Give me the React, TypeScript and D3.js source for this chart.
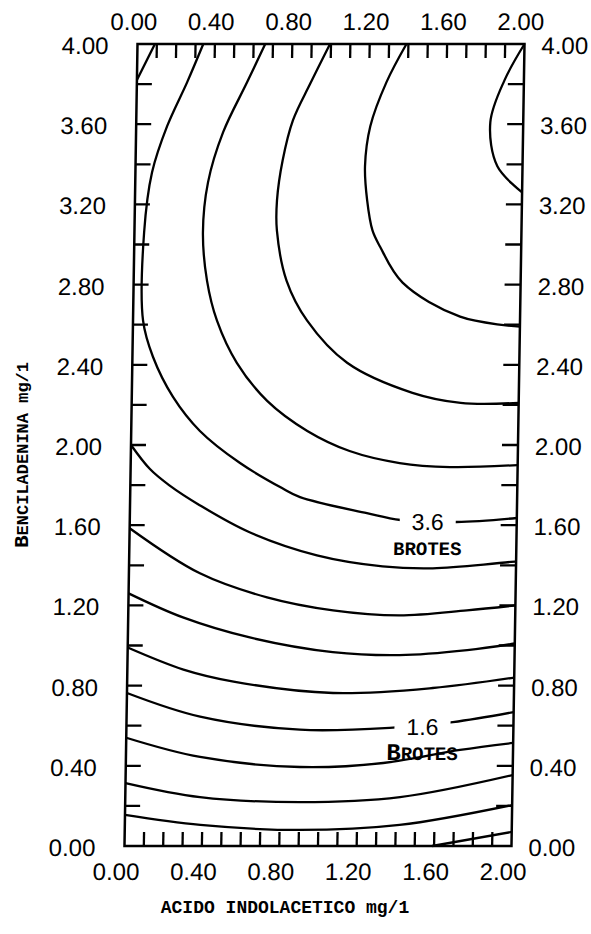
import React, { useEffect, useRef } from "react";
import * as d3 from "d3";

// Axis values
const xTickValues = [0, 0.4, 0.8, 1.2, 1.6, 2.0];
const yTickValues = [0, 0.4, 0.8, 1.2, 1.6, 2.0, 2.4, 2.8, 3.2, 3.6, 4.0];
const xMinorTicks = [0.1, 0.2, 0.3, 0.4, 0.5, 0.6, 0.7, 0.8, 0.9, 1.0, 1.1, 1.2, 1.3, 1.4, 1.5, 1.6, 1.7, 1.8, 1.9];
const yMinorTicks = [0.2, 0.4, 0.6, 0.8, 1.0, 1.2, 1.4, 1.6, 1.8, 2.0, 2.2, 2.4, 2.6, 2.8, 3.0, 3.2, 3.4, 3.6, 3.8];

// Contour lines, [acido indolacetico, bencilhadenina]
const cornerTopLeft: [number, number][] = [[0.09, 4.0], [0.0, 3.82]];
const contour36: [number, number][] = [
  [0.34, 4.0], [0.26, 3.81], [0.16, 3.59], [0.086, 3.36], [0.05, 3.06], [0.052, 2.62],
  [0.106, 2.44], [0.213, 2.24], [0.355, 2.07], [0.565, 1.91], [0.784, 1.785], [0.878, 1.74],
  [1.225, 1.66], [1.40, 1.626], [1.69, 1.616], [2.0, 1.636],
];
const contourB: [number, number][] = [
  [0.66, 4.0], [0.57, 3.81], [0.45, 3.56], [0.376, 3.31], [0.354, 3.06], [0.379, 2.82],
  [0.434, 2.62], [0.54, 2.41], [0.70, 2.22], [0.91, 2.07], [1.13, 1.97], [1.39, 1.91],
  [1.65, 1.89], [2.0, 1.90],
];
const contourC: [number, number][] = [
  [0.995, 4.0], [0.895, 3.80], [0.81, 3.62], [0.76, 3.42], [0.734, 3.22], [0.736, 3.07],
  [0.79, 2.82], [0.90, 2.62], [1.11, 2.41], [1.45, 2.26], [1.70, 2.21], [2.0, 2.21],
];
const contourD: [number, number][] = [
  [1.39, 4.0], [1.29, 3.81], [1.21, 3.59], [1.186, 3.39], [1.20, 3.22], [1.23, 3.07],
  [1.27, 2.99], [1.39, 2.81], [1.69, 2.64], [2.0, 2.59],
];
const cornerTopRight: [number, number][] = [[2.0, 4.0], [1.90, 3.82], [1.83, 3.61], [1.87, 3.39], [2.0, 3.26]];
const contourE: [number, number][] = [
  [0.0, 2.0], [0.10, 1.88], [0.20, 1.80], [0.36, 1.70], [0.62, 1.565], [0.97, 1.45],
  [1.31, 1.395], [1.57, 1.385], [2.0, 1.42],
];
const contourF: [number, number][] = [
  [0.0, 1.585], [0.367, 1.36], [0.716, 1.24], [1.058, 1.175], [1.40, 1.15], [1.75, 1.175], [2.0, 1.20],
];
const contourG: [number, number][] = [
  [0.0, 1.26], [0.283, 1.14], [0.63, 1.04], [1.06, 0.967], [1.406, 0.952], [1.755, 0.977], [2.0, 1.01],
];
const contourH: [number, number][] = [
  [0.0, 0.99], [0.29, 0.88], [0.55, 0.82], [1.065, 0.763], [1.58, 0.788], [2.0, 0.84],
];
const contour16: [number, number][] = [
  [0.0, 0.763], [0.38, 0.645], [0.897, 0.58], [1.378, 0.59], [1.687, 0.618], [2.0, 0.668],
];
const contourI: [number, number][] = [
  [0.0, 0.54], [0.383, 0.444], [0.90, 0.394], [1.33, 0.414], [1.726, 0.479], [2.0, 0.514],
];
const contourJ: [number, number][] = [
  [0.0, 0.314], [0.386, 0.244], [0.903, 0.219], [1.42, 0.244], [2.0, 0.354],
];
const contourK: [number, number][] = [
  [0.0, 0.155], [0.39, 0.105], [0.904, 0.08], [1.42, 0.105], [2.0, 0.204],
];
const cornerBottomRight: [number, number][] = [[1.59, 0.0], [2.0, 0.07]];

const contours = [
  cornerTopLeft, contour36, contourB, contourC, contourD, cornerTopRight, contourE,
  contourF, contourG, contourH, contour16, contourI, contourJ, contourK, cornerBottomRight,
];

// Contour labels
const labelValues = ["3.6", "1.6"];
const labelX = [1.54, 1.53];
const labelY = [1.62, 0.60];

export default function App() {
  const svgRef = useRef<SVGSVGElement>(null);

  const width = 591;
  const height = 934;
  const left = 137.5;
  const top = 44;
  const plotW = 387;
  const plotH = 802;
  const skew = -0.93; // the scan is slightly sheared

  useEffect(() => {
    const svg = d3.select(svgRef.current);
    svg.selectAll("*").remove();

    svg.append("rect").attr("width", width).attr("height", height).attr("fill", "white");

    const x = d3.scaleLinear().domain([0, 2]).range([0, plotW]);
    const y = d3.scaleLinear().domain([0, 4]).range([plotH, 0]);

    const g = svg.append("g")
      .attr("transform", "translate(" + left + "," + top + ") skewX(" + skew + ")");

    // CONTOURS
    const line = d3.line<[number, number]>()
      .x(d => x(d[0]))
      .y(d => y(d[1]))
      .curve(d3.curveCatmullRom.alpha(0.5));

    g.selectAll("path.contour")
      .data(contours)
      .enter()
      .append("path")
      .attr("class", "contour")
      .attr("d", d => line(d))
      .attr("fill", "none")
      .attr("stroke", "black")
      .attr("stroke-width", 2.3);

    // TICKS (inward)
    const tickLen = 14;
    g.selectAll("line.xt")
      .data(xMinorTicks)
      .enter()
      .append("line")
      .attr("x1", d => x(d)).attr("x2", d => x(d))
      .attr("y1", 0).attr("y2", tickLen)
      .attr("stroke", "black").attr("stroke-width", 2.3);
    g.selectAll("line.xb")
      .data(xMinorTicks)
      .enter()
      .append("line")
      .attr("x1", d => x(d)).attr("x2", d => x(d))
      .attr("y1", plotH).attr("y2", plotH - tickLen)
      .attr("stroke", "black").attr("stroke-width", 2.3);
    g.selectAll("line.yl")
      .data(yMinorTicks)
      .enter()
      .append("line")
      .attr("x1", 0).attr("x2", tickLen + 1)
      .attr("y1", d => y(d)).attr("y2", d => y(d))
      .attr("stroke", "black").attr("stroke-width", 2.3);
    g.selectAll("line.yr")
      .data(yMinorTicks)
      .enter()
      .append("line")
      .attr("x1", plotW).attr("x2", plotW - tickLen - 2)
      .attr("y1", d => y(d)).attr("y2", d => y(d))
      .attr("stroke", "black").attr("stroke-width", 2.3);

    // FRAME
    g.append("rect")
      .attr("width", plotW).attr("height", plotH)
      .attr("fill", "none").attr("stroke", "black").attr("stroke-width", 2.5);

    // TICK LABELS
    const fmt = d3.format(".2f");
    const sans = "'Liberation Sans', Arial, sans-serif";
    g.selectAll("text.top")
      .data(xTickValues)
      .enter()
      .append("text")
      .attr("x", d => x(d) - 4).attr("y", -14)
      .attr("text-anchor", "middle")
      .attr("font-family", sans).attr("font-size", 24)
      .text(d => fmt(d));
    g.selectAll("text.bottom")
      .data(xTickValues)
      .enter()
      .append("text")
      .attr("x", d => x(d) - 8).attr("y", plotH + 34)
      .attr("text-anchor", "middle")
      .attr("font-family", sans).attr("font-size", 24)
      .text(d => fmt(d));
    g.selectAll("text.left")
      .data(yTickValues)
      .enter()
      .append("text")
      .attr("x", -29).attr("y", d => y(d) + 10)
      .attr("text-anchor", "end")
      .attr("font-family", sans).attr("font-size", 24)
      .text(d => fmt(d));
    g.selectAll("text.right")
      .data(yTickValues)
      .enter()
      .append("text")
      .attr("x", plotW + 17).attr("y", d => y(d) + 10)
      .attr("text-anchor", "start")
      .attr("font-family", sans).attr("font-size", 24)
      .text(d => fmt(d));

    // CONTOUR LABELS
    const mono = "'Liberation Mono', 'Courier New', monospace";
    labelValues.forEach((lab, i) => {
      const lx = x(labelX[i]);
      const ly = y(labelY[i]);
      g.append("rect")
        .attr("x", lx - 28).attr("y", ly - 12)
        .attr("width", 56).attr("height", 18)
        .attr("fill", "white");
      g.append("text")
        .attr("x", lx).attr("y", ly + 9)
        .attr("text-anchor", "middle")
        .attr("font-family", sans).attr("font-size", 23)
        .text(lab);
      const b = g.append("text")
        .attr("x", lx).attr("y", ly + 34)
        .attr("text-anchor", "middle")
        .attr("font-family", mono).attr("font-weight", "bold")
        .attr("font-size", 19);
      b.append("tspan").attr("font-size", i === 1 ? 24 : 19).text("B");
      b.append("tspan").text("ROTES");
    });

    // X AXIS TITLE
    svg.append("text")
      .attr("x", 285).attr("y", 913)
      .attr("text-anchor", "middle")
      .attr("font-family", mono).attr("font-weight", "bold")
      .attr("font-size", 18)
      .text("ACIDO INDOLACETICO mg/1");

    // Y AXIS TITLE
    const yt = svg.append("text")
      .attr("transform", "translate(28,455) rotate(-90)")
      .attr("text-anchor", "middle")
      .attr("font-family", mono).attr("font-weight", "bold")
      .attr("font-size", 17);
    yt.append("tspan").attr("font-size", 21).text("B");
    yt.append("tspan").text("ENCILADENINA mg/1");
  }, []);

  return (
    <svg ref={svgRef} width={width} height={height}
      style={{ position: "absolute", left: 0, top: 0 }}></svg>
  );
}
